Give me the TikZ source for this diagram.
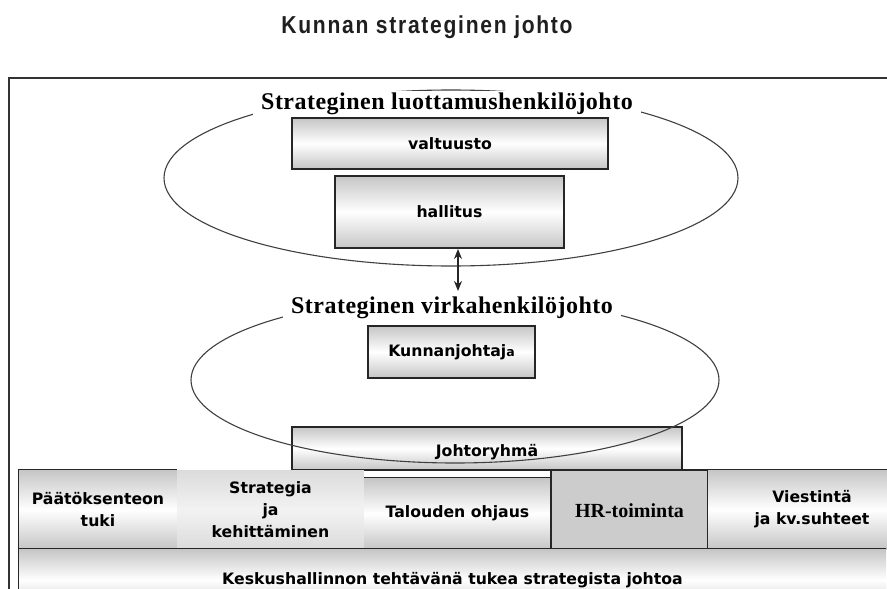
\documentclass[tikz,border=0pt]{standalone}
\usepackage{fontspec}
\setmainfont{Liberation Sans}
\newfontfamily\titlefont[FakeStretch=0.86,LetterSpace=7]{Liberation Sans}
\newfontfamily\lblfont[LetterSpace=2]{Liberation Serif}
\newfontfamily\hrfont{Liberation Serif}
\newfontfamily\boxfont{DejaVu Sans}
\usetikzlibrary{shapes.geometric,arrows.meta}
\begin{document}
\begin{tikzpicture}[x=1pt,y=-1pt,
  grad/.style={top color=gray!45, bottom color=gray!45, middle color=white},
  boxtxt/.style={font=\boxfont\bfseries\fontsize{15.7}{22}\selectfont, align=center, inner sep=0pt},
  box/.style={grad, boxtxt, draw=black!85, line width=1.3pt},
  cell/.style={grad, boxtxt},
  ring/.style={ellipse, draw=black!75, line width=1.1pt, inner sep=0pt},
  lbl/.style={fill=white, font=\lblfont\bfseries\fontsize{24}{28}\selectfont, inner xsep=8pt, inner ysep=1pt},
  edge/.style={draw=black!85, line width=1.3pt}
]
\useasboundingbox (0,0) rectangle (887,589);
\clip (0,0) rectangle (887,589);
\fill[white] (0,0) rectangle (887,589);

% title
\node[font=\titlefont\bfseries\fontsize{24.5}{28}\selectfont, anchor=base, text=black!88] (title) at (427,34) {Kunnan strateginen johto};

% outer frame
\draw[draw=black!80, line width=1.3pt] (9,78) rectangle (900,640);

% upper ellipse
\node[ring, minimum width=574pt, minimum height=176pt] (e1) at (451,178) {};
\node[lbl, anchor=base] (lab1) at (447,109) {Strateginen luottamushenkilöjohto};
\node[box, minimum width=316pt, minimum height=51pt] (valt) at (450,143.5) {valtuusto};
\node[box, minimum width=229pt, minimum height=72pt] (hall) at (449.5,212) {hallitus};

% arrow
\coordinate (a1) at (458,249);
\coordinate (a2) at (458,291);
\draw[{Stealth[length=10pt,width=8pt]}-{Stealth[length=10pt,width=8pt]}, line width=1.2pt, black!85] (a1) -- (a2);

% lower ellipse
\node[box, minimum width=390pt, minimum height=43pt] (johto) at (487,448.5) {\rule{0pt}{20pt}Johtoryhmä};
\node[ring, minimum width=528pt, minimum height=166pt] (e2) at (455,380) {};
\node[lbl, anchor=base] (lab2) at (452,313) {Strateginen virkahenkilöjohto};
\node[box, minimum width=167pt, minimum height=52pt] (kunj) at (451.5,352) {Kunnanjohtaj{\fontsize{12.5}{14}\selectfont a}};

% row of cells
\node[cell, minimum width=158pt, minimum height=79pt] (paat) at (98,509.5) {Päätöksenteon\\tuki};
\node[boxtxt, top color=gray!28, bottom color=gray!28, middle color=gray!10, minimum width=187pt, minimum height=79pt] (strat) at (270.5,509.5) {Strategia\\ja\\kehittäminen};
\node[cell, minimum width=187pt, minimum height=71pt] (talo) at (457.5,513.5) {Talouden ohjaus};
\node[boxtxt, fill=gray!40, draw=black!85, line width=2pt, minimum width=157pt, minimum height=79pt, font=\hrfont\bfseries\fontsize{20}{24}\selectfont] (hr) at (629.5,509.5) {\rule{0pt}{17pt}HR-toiminta};
\node[cell, minimum width=208pt, minimum height=79pt] (vies) at (812,509.5) {Viestintä\\ja kv.suhteet};
\node[cell, minimum width=867pt, minimum height=62pt] (kesk) at (452.5,580) {Keskushallinnon tehtävänä tukea strategista johtoa};

% cell edges
\draw[edge] (paat.south west) -- (paat.north west) -- (paat.north east);
\draw[edge] (talo.north west) -- (talo.north east);
\draw[edge] (vies.north west) -- (vies.north east);
\draw[edge] (vies.north west) -- (vies.south west);
\draw[edge] (kesk.south west) -- (kesk.north west) -- (kesk.north east);
\end{tikzpicture}
\end{document}
